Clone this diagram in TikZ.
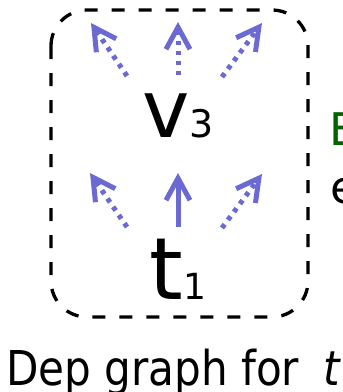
\documentclass[tikz,border=0pt]{standalone}
\usepackage{fontspec}
\setmainfont{DejaVu Sans}
\newfontfamily\condfont[FakeStretch=0.975]{DejaVu Sans Condensed}
\usetikzlibrary{arrows.meta}
\definecolor{depblue}{RGB}{106,106,210}
\definecolor{hintgreen}{RGB}{0,100,0}
\begin{document}
\begin{tikzpicture}[x=1pt,y=-1pt,
  depedge/.style={draw=depblue, line width=5pt,
    -{Straight Barb[length=22pt,width=24pt]}},
  weakedge/.style={depedge, dash pattern=on 4.5pt off 5.5pt},
  txt/.style={inner sep=0pt, anchor=base west},
]
\useasboundingbox (0,0) rectangle (343,392);
\clip (0,0) rectangle (343,392);

% dashed frame around the dependency graph
\draw[line width=3.3pt, dash pattern=on 13pt off 14pt, rounded corners=36pt]
  (51,10) rectangle (308,317);

% node labels
\node[txt] (v) at (142,137) {\fontsize{80}{90}\selectfont v};
\node[txt] (vsub) at (v.base east) {\fontsize{38}{44}\selectfont 3};
\node[txt] (t) at (149,299) {\fontsize{86}{98}\selectfont t};
\node[txt] (tsub) at (t.base east) {\fontsize{36}{42}\selectfont 1};

% arrow end points
\coordinate (vl0) at (127,76);  \coordinate (vl1) at (91,23);
\coordinate (vc0) at (178,75);  \coordinate (vc1) at (178,22);
\coordinate (vr0) at (222,77);  \coordinate (vr1) at (262,23);
\coordinate (tl0) at (127,227); \coordinate (tl1) at (90,173);
\coordinate (tc0) at (178,227); \coordinate (tc1) at (178,173);
\coordinate (tr0) at (222,228); \coordinate (tr1) at (262,174);

\draw[weakedge] (vl0) -- (vl1);
\draw[weakedge] (vc0) -- (vc1);
\draw[weakedge] (vr0) -- (vr1);
\draw[weakedge] (tl0) -- (tl1);
\draw[depedge]  (tc0) -- (tc1);
\draw[weakedge] (tr0) -- (tr1);

% side text
\node[txt, text=hintgreen] (side1) at (329,145) {\fontsize{45}{54}\selectfont E};
\node[txt] (side2) at (330.5,203) {\fontsize{45}{54}\selectfont e};

% caption
\node[txt] (cap) at (6,385) {\condfont\fontsize{48}{58}\selectfont Dep graph for\hspace{11pt} \textit{t}};
\end{tikzpicture}
\end{document}
